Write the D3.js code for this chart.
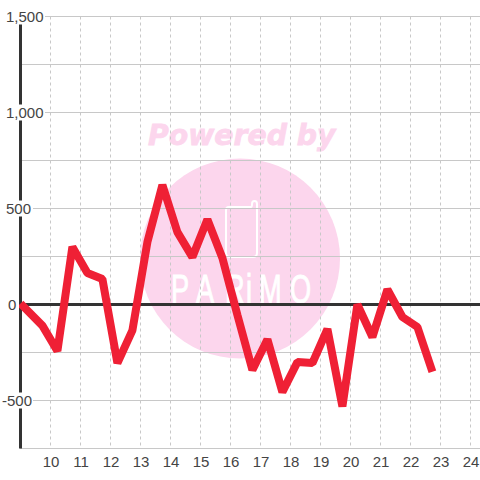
<!DOCTYPE html>
<html><head><meta charset="utf-8">
<script src="https://d3js.org/d3.v7.min.js"></script>
<style>html,body{margin:0;padding:0;background:#fff}svg{display:block}text{font-family:"Liberation Sans",Arial,sans-serif}</style>
</head><body><svg id="c" width="480" height="480"></svg>
<script>
const hours=[9,9.73,10.23,10.73,11.23,11.73,12.23,12.73,13.23,13.73,14.23,14.73,15.23,15.73,16.23,16.73,17.23,17.73,18.23,18.73,19.23,19.73,20.23,20.73,21.23,21.73,22.23,22.73];
const values=[5,-110,-242,300,164,133,-305,-135,325,622,377,247,443,242,-55,-341,-182,-456,-300,-305,-128,-531,0,-169,78,-65,-117,-350];
const yTicks=[-500,0,500,1000,1500];
const yMinor=[-750,-250,250,750,1250];
const xTicks=[10,11,12,13,14,15,16,17,18,19,20,21,22,23,24];
const svg=d3.select("#c");
const x=d3.scaleLinear().domain([10,24]).range([50.5,470.5]);
const y=d3.scaleLinear().domain([-750,1500]).range([448.5,16.5]);
const pink="#fcd6ed";
const wm=svg.append("g");
wm.append("circle").attr("cx",240).attr("cy",258.5).attr("r",100).attr("fill",pink);
wm.append("text").text("Powered by").attr("x",148).attr("y",145).attr("fill",pink).attr("stroke",pink).attr("stroke-width",0.8)
 .style("font-family","DejaVu Sans").style("font-weight","bold").style("font-style","italic").style("font-size","28.3px");
wm.append("path").attr("d","M229 207H251Q252 207 252 204Q252 201 254.500 201Q257 201 257 204V253Q257 257 253 257H230Q226 257 226 253V210Q226 207 229 207Z")
 .attr("fill","none").attr("stroke","#fff").attr("stroke-width",2);
const logoX=[171,196,225,246,259,290].map(p=>p/0.68);
wm.append("text").text("PARiMO").attr("transform","scale(0.68,1)").attr("x",logoX.join(" ")).attr("y",303).attr("fill","#fff").attr("stroke","#fff").attr("stroke-width",0.9)
 .style("font-size","40px");
svg.append("g").selectAll("line").data(xTicks).join("line")
 .attr("x1",d=>x(d)).attr("x2",d=>x(d)).attr("y1",y(1500)).attr("y2",y(-750))
 .attr("stroke","#c8c8c8").attr("stroke-width",1).attr("stroke-dasharray","3 3");
svg.append("g").selectAll("line").data(yMinor.concat(yTicks.filter(d=>d!==0))).join("line")
 .attr("x1",20).attr("x2",480).attr("y1",d=>y(d)).attr("y2",d=>y(d))
 .attr("stroke","#c8c8c8").attr("stroke-width",1);
svg.append("line").attr("x1",20.5).attr("x2",20.5).attr("y1",16).attr("y2",y(-750)).attr("stroke","#333").attr("stroke-width",3);
svg.append("line").attr("x1",20).attr("x2",480).attr("y1",y(0)).attr("y2",y(0)).attr("stroke","#333").attr("stroke-width",3);
const line=d3.line().x((d,i)=>x(hours[i])).y(d=>y(d));
svg.append("path").datum(values).attr("d",line).attr("fill","none").attr("stroke","#ef2035").attr("stroke-width",8).attr("stroke-linejoin","bevel");
const yl=svg.append("g").selectAll("g").data(yTicks).join("g");
const fmt=d3.format(",");
yl.append("rect").attr("x",0).attr("y",d=>y(d)-8).attr("height",16).attr("fill","#fff")
 .attr("width",d=>Math.abs(d)>=1000?45:(d===0?19:33));
yl.append("text").text(d=>fmt(d).replace("−","-")).attr("x",d=>d<0?2:(d===0?8:6)).attr("y",d=>y(d)+5.5)
 .attr("fill","#444").style("font-size","15px");
svg.append("g").selectAll("text").data(xTicks).join("text").text(d=>d)
 .attr("x",d=>x(d)+0.5).attr("y",466.5).attr("text-anchor","middle").attr("fill","#444").style("font-size","15px");
</script></body></html>
